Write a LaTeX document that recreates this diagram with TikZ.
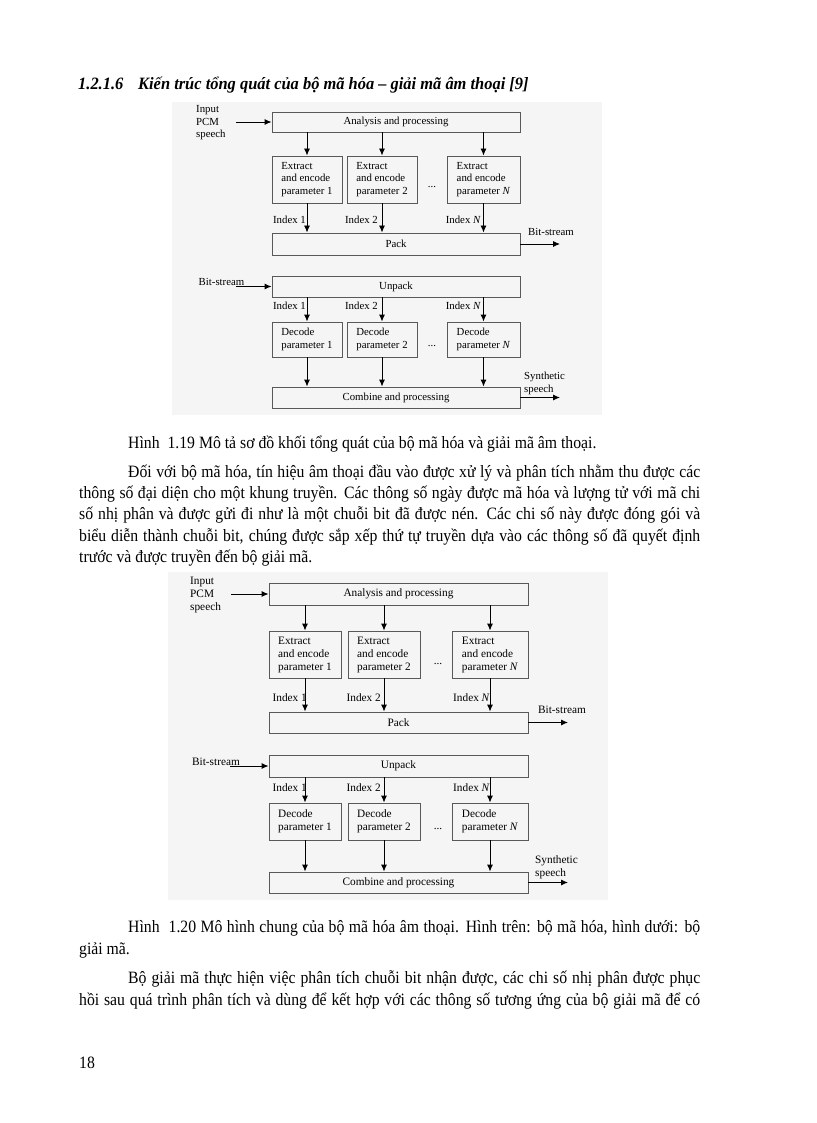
\documentclass[tikz,border=0pt]{standalone}
\usepackage{fontspec}
\setmainfont{Liberation Serif}[FakeStretch=0.91]
\newfontfamily\diafam{Liberation Serif}
\newfontfamily\headfam{Liberation Serif}[FakeStretch=0.95]
\usetikzlibrary{arrows.meta}
\newcommand{\diafont}{\diafam\fontsize{10.8}{12.5}\selectfont}
\newcommand{\diafontb}{\diafam\fontsize{11.3}{13}\selectfont}
\newcommand{\txtfont}{\fontsize{17.3}{21}\selectfont}

\begin{document}
\begin{tikzpicture}[x=1pt, y=-1pt,
    blk/.style={draw=black!65, line width=0.9pt, inner sep=0pt, align=left, font=\diafont},
    wide/.style={blk, align=center},
    lbl/.style={font=\diafont, inner sep=0pt, align=left},
    arr/.style={-{Latex[length=7pt,width=6pt]}, line width=0.9pt},
    txt/.style={anchor=base west, inner sep=0pt, font=\txtfont},
    shade/.style={fill=black!4}
]
\useasboundingbox[fill=white] (0,0) rectangle (816,1123);

% heading
\node[txt, font=\headfam\txtfont\bfseries\itshape] (secno) at (78,90) {1.2.1.6};
\node[txt, font=\headfam\txtfont\bfseries\itshape] (sectitle) at (138,90) {Kiến trúc tổng quát của bộ mã hóa – giải mã âm thoại [9]};

% figure 1.19, encoder
\fill[shade] (172,102) rectangle (602,415);
\node[wide, minimum width=248pt, minimum height=20pt] (ana1) at (396,122) {Analysis and processing};
\node[blk, minimum width=70pt, minimum height=47pt] (ex11) at (307,179.5) {Extract\\and encode\\parameter 1};
\node[blk, minimum width=70pt, minimum height=47pt] (ex12) at (382,179.5) {Extract\\and encode\\parameter 2};
\node[blk, minimum width=73pt, minimum height=47pt] (ex1N) at (483.5,179.5) {Extract\\and encode\\parameter \textit{N}};
\node[lbl, anchor=base] (dots11) at (432,188) {...};
\node[wide, minimum width=248pt, minimum height=22pt] (pk1) at (396,244) {Pack};

\node[lbl, anchor=west] (pcm1) at (196,123) {Input\\PCM\\speech};
\coordinate (in1) at (236,122);
\draw[arr] (in1) -- (ana1.west);
\foreach \b in {ex11,ex12,ex1N}{
  \draw[arr] (ana1.south -| \b) -- (\b.north);
  \draw[arr] (\b.south) -- (\b.south |- pk1.north);
}
\node[lbl, anchor=base east] (idx11) at (306,224) {Index 1};
\node[lbl, anchor=base east] (idx12) at (378,224) {Index 2};
\node[lbl, anchor=base east] (idx1N) at (481,224) {Index \textit{N}};
\coordinate (out1) at (560,244);
\draw[arr] (pk1.east) -- (out1);
\node[lbl, anchor=base] (bs11) at (551,236) {Bit-stream};

% figure 1.19, decoder
\node[wide, minimum width=248pt, minimum height=21pt] (unp1) at (396,286.5) {Unpack};
\node[blk, minimum width=70pt, minimum height=35pt] (de11) at (307,339.5) {Decode\\parameter 1};
\node[blk, minimum width=70pt, minimum height=35pt] (de12) at (382,339.5) {Decode\\parameter 2};
\node[blk, minimum width=73pt, minimum height=35pt] (de1N) at (483.5,339.5) {Decode\\parameter \textit{N}};
\node[lbl, anchor=base] (dots12) at (432,346) {...};
\node[wide, minimum width=248pt, minimum height=21pt] (cb1) at (396,397.5) {Combine and processing};

\node[lbl, anchor=base] (bs12) at (221.5,285) {Bit-stream};
\coordinate (in2) at (236,286.5);
\draw[arr] (in2) -- (unp1.west);
\foreach \b in {de11,de12,de1N}{
  \draw[arr] (unp1.south -| \b) -- (\b.north);
  \draw[arr] (\b.south) -- (\b.south |- cb1.north);
}
\node[lbl, anchor=base east] (idx21) at (306,309) {Index 1};
\node[lbl, anchor=base east] (idx22) at (378,309) {Index 2};
\node[lbl, anchor=base east] (idx2N) at (481,309) {Index \textit{N}};
\coordinate (out2) at (560,397.5);
\draw[arr] (cb1.east) -- (out2);
\node[lbl, anchor=west] (syn1) at (524,383.5) {Synthetic\\speech};

% text
\node[txt] (cap19) at (128,448) {Hình~~1.19 Mô tả sơ đồ khối tổng quát của bộ mã hóa và giải mã âm thoại.};
\node[txt] (p1l1) at (128,477) {\makebox[572pt][s]{Đối với bộ mã hóa, tín hiệu âm thoại đầu vào được xử lý và phân tích nhằm thu được các}};
\node[txt] (p1l2) at (79,498) {\makebox[621pt][s]{thông số đại diện cho một khung truyền. Các thông số ngày được mã hóa và lượng tử với mã chi}};
\node[txt] (p1l3) at (79,519.5) {\makebox[621pt][s]{số nhị phân và được gửi đi như là một chuỗi bit đã được nén. Các chi số này được đóng gói và}};
\node[txt] (p1l4) at (79,541) {\makebox[621pt][s]{biểu diễn thành chuỗi bit, chúng được sắp xếp thứ tự truyền dựa vào các thông số đã quyết định}};
\node[txt] (p1l5) at (79,562) {trước và được truyền đến bộ giải mã.};

% figure 1.20
\fill[shade] (168,572) rectangle (608,900);
\begin{scope}[blk/.append style={font=\diafontb}, lbl/.append style={font=\diafontb}]
\node[wide, minimum width=259pt, minimum height=22pt] (ana2) at (398.5,594) {Analysis and processing};
\node[blk, minimum width=72pt, minimum height=47pt] (ex21) at (305,654.5) {Extract\\and encode\\parameter 1};
\node[blk, minimum width=72pt, minimum height=47pt] (ex22) at (384,654.5) {Extract\\and encode\\parameter 2};
\node[blk, minimum width=76pt, minimum height=47pt] (ex2N) at (490,654.5) {Extract\\and encode\\parameter \textit{N}};
\node[lbl, anchor=base] (dots21) at (438,664) {...};
\node[wide, minimum width=259pt, minimum height=21pt] (pk2) at (398.5,722.5) {Pack};

\node[lbl, anchor=west] (pcm2) at (190,595) {Input\\PCM\\speech};
\coordinate (in3) at (231,594);
\draw[arr] (in3) -- (ana2.west);
\foreach \b in {ex21,ex22,ex2N}{
  \draw[arr] (ana2.south -| \b) -- (\b.north);
  \draw[arr] (\b.south) -- (\b.south |- pk2.north);
}
\node[lbl, anchor=base east] (idx31) at (307,701) {Index 1};
\node[lbl, anchor=base east] (idx32) at (381,701) {Index 2};
\node[lbl, anchor=base east] (idx3N) at (490,701) {Index \textit{N}};
\coordinate (out3) at (568,722.5);
\draw[arr] (pk2.east) -- (out3);
\node[lbl, anchor=base] (bs21) at (562,713) {Bit-stream};

\node[wide, minimum width=259pt, minimum height=22pt] (unp2) at (398.5,766) {Unpack};
\node[blk, minimum width=72pt, minimum height=37pt] (de21) at (305,821.5) {Decode\\parameter 1};
\node[blk, minimum width=72pt, minimum height=37pt] (de22) at (384,821.5) {Decode\\parameter 2};
\node[blk, minimum width=76pt, minimum height=37pt] (de2N) at (490,821.5) {Decode\\parameter \textit{N}};
\node[lbl, anchor=base] (dots22) at (438,829) {...};
\node[wide, minimum width=259pt, minimum height=21pt] (cb2) at (398.5,882.5) {Combine and processing};

\node[lbl, anchor=base] (bs22) at (216,765) {Bit-stream};
\coordinate (in4) at (230,766);
\draw[arr] (in4) -- (unp2.west);
\foreach \b in {de21,de22,de2N}{
  \draw[arr] (unp2.south -| \b) -- (\b.north);
  \draw[arr] (\b.south) -- (\b.south |- cb2.north);
}
\node[lbl, anchor=base east] (idx41) at (307,791) {Index 1};
\node[lbl, anchor=base east] (idx42) at (381,791) {Index 2};
\node[lbl, anchor=base east] (idx4N) at (490,791) {Index \textit{N}};
\coordinate (out4) at (568,882.5);
\draw[arr] (cb2.east) -- (out4);
\node[lbl, anchor=west] (syn2) at (535,867) {Synthetic\\speech};
\end{scope}

% text
\node[txt] (cap20) at (128,932) {\makebox[572pt][s]{Hình~~1.20 Mô hình chung của bộ mã hóa âm thoại. Hình trên: bộ mã hóa, hình dưới: bộ}};
\node[txt] (cap20b) at (79,954) {giải mã.};
\node[txt] (p2l1) at (128,983) {\makebox[572pt][s]{Bộ giải mã thực hiện việc phân tích chuỗi bit nhận được, các chi số nhị phân được phục}};
\node[txt] (p2l2) at (79,1005) {\makebox[621pt][s]{hồi sau quá trình phân tích và dùng để kết hợp với các thông số tương ứng của bộ giải mã để có}};
\node[txt] (pageno) at (79,1068) {18};
\end{tikzpicture}
\end{document}
